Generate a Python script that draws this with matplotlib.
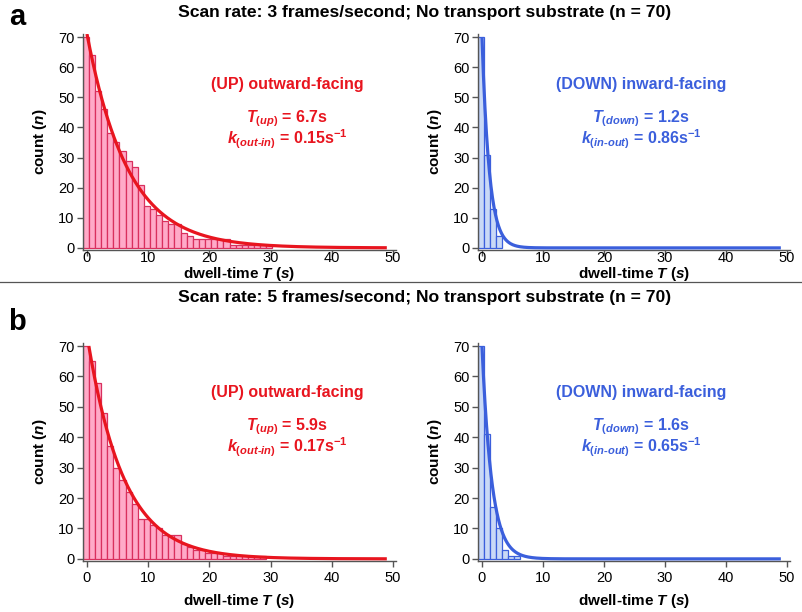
import numpy as np
import matplotlib
matplotlib.use("Agg")
import matplotlib.pyplot as plt
from matplotlib.lines import Line2D

plt.rcParams['font.family'] = ['Liberation Sans', 'DejaVu Sans']
plt.rcParams['mathtext.fontset'] = 'custom'
plt.rcParams['mathtext.rm'] = 'Liberation Sans:bold'
plt.rcParams['mathtext.bf'] = 'Liberation Sans:bold'
plt.rcParams['mathtext.it'] = 'Liberation Sans:italic:bold'

# histogram counts per 1 s bin (first bin starts at -0.7 s)
up_3fps = [70, 64, 52, 46, 38, 35, 32, 29, 27, 21, 14, 13, 11, 9, 8, 8, 5, 4,
           3, 3, 3, 3, 3, 3, 1, 1, 1, 1, 1, 1, 1]
down_3fps = [70, 31, 13, 4]
up_5fps = [70, 65, 58, 48, 37, 30, 26, 22, 18, 13, 13, 11, 10, 8, 8, 8, 5, 4,
           3, 3, 2, 2, 2, 1, 1, 1, 1, 1, 1, 1]
down_5fps = [70, 41, 17, 10, 3, 1, 1]

# exponential fits: amplitude, start time, dwell time
fit_up_3 = (71, 0.0, 6.7)
fit_down_3 = (70, 0.0, 1.2)
fit_up_5 = (70, 0.3, 5.9)
fit_down_5 = (70, 0.0, 1.6)

titles = ["Scan rate: 3 frames/second; No transport substrate (n = 70)",
          "Scan rate: 5 frames/second; No transport substrate (n = 70)"]
panel_letters = ["a", "b"]
up_text = [("6.7", "0.15"), ("5.9", "0.17")]
down_text = [("1.2", "0.86"), ("1.6", "0.65")]

red = '#e8151f'
pink = '#ffaac8'
pink_edge = '#d9305e'
blue = '#3b5fdc'
lightblue = '#c9d9f6'
axcol = '#555555'

W, H = 802, 612
fig = plt.figure(figsize=(W / 100, H / 100), dpi=100)


def px_axes(x0, x1, y0, y1):
    return fig.add_axes([x0 / W, 1 - y1 / H, (x1 - x0) / W, (y1 - y0) / H])


def draw_hist(ax, counts, fit, color, fill, edge, xpad, xlabelpad):
    n = len(counts)
    ax.bar(np.arange(n) - 0.7, counts, width=1.0, align='edge',
           color=fill, edgecolor=edge, linewidth=0.9, zorder=2)
    amp, t0, tau = fit
    t = np.linspace(t0, 49, 400)
    ax.plot(t, amp * np.exp(-(t - t0) / tau), color=color, lw=2.3, zorder=3,
            solid_capstyle='butt')
    ax.set_xlim(-0.65, 50.5)
    ax.set_ylim(-0.7, 71)
    ax.set_xticks(np.arange(0, 51, 10))
    ax.set_yticks(np.arange(0, 71, 10))
    for s in ['top', 'right']:
        ax.spines[s].set_visible(False)
    for s in ['left', 'bottom']:
        ax.spines[s].set_color(axcol)
        ax.spines[s].set_linewidth(1.0)
    ax.tick_params(direction='out', length=4, width=1, color=axcol,
                   labelsize=10.5, pad=2)
    ax.tick_params(axis='x', pad=xpad)
    ax.set_xlabel("dwell-time $T$ ($s$)", fontsize=11, fontweight='bold',
                  labelpad=xlabelpad)
    ax.set_ylabel("count ($n$)", fontsize=11, fontweight='bold', labelpad=7)


rows = [(34, 250, up_3fps, down_3fps, fit_up_3, fit_down_3),
        (343, 561, up_5fps, down_5fps, fit_up_5, fit_down_5)]
title_y = [12, 297]
letter_y = [17, 322]
text_off = [0, 308]
xpads = [-3.5, 3]
xlabelpads = [0, 5]

for i, (ytop, ybot, up, down, fu, fd) in enumerate(rows):
    ax1 = px_axes(83, 396, ytop, ybot)
    draw_hist(ax1, up, fu, red, pink, pink_edge, xpads[i], xlabelpads[i])
    ax2 = px_axes(478, 790, ytop, ybot)
    draw_hist(ax2, down, fd, blue, lightblue, blue, xpads[i], xlabelpads[i])

    fig.text(425 / W, 1 - title_y[i] / H, titles[i], ha='center', va='center',
             fontsize=12.6, fontweight='bold')
    fig.text(17 / W, 1 - letter_y[i] / H, panel_letters[i], ha='center',
             va='center', fontsize=21, fontweight='bold')

    off = text_off[i]
    tu, ku = up_text[i]
    fig.text(287 / W, 1 - (84 + off) / H, "(UP) outward-facing", color=red,
             ha='center', va='center', fontsize=11.5, fontweight='bold')
    fig.text(287 / W, 1 - (119 + off) / H,
             r"$\mathit{T}_{\mathit{(up)}}$ = " + tu + "s", color=red,
             ha='center', va='center', fontsize=11.5, fontweight='bold')
    fig.text(287 / W, 1 - (139 + off) / H,
             r"$\mathit{k}_{\mathit{(out}\text{-}\mathit{in)}}$ = " + ku
             + r"s$^{-1}$", color=red,
             ha='center', va='center', fontsize=11.5, fontweight='bold')

    td, kd = down_text[i]
    fig.text(641 / W, 1 - (84 + off) / H, "(DOWN) inward-facing", color=blue,
             ha='center', va='center', fontsize=11.5, fontweight='bold')
    fig.text(641 / W, 1 - (119 + off) / H,
             r"$\mathit{T}_{\mathit{(down)}}$ = " + td + "s", color=blue,
             ha='center', va='center', fontsize=11.5, fontweight='bold')
    fig.text(641 / W, 1 - (139 + off) / H,
             r"$\mathit{k}_{\mathit{(in}\text{-}\mathit{out)}}$ = " + kd
             + r"s$^{-1}$", color=blue,
             ha='center', va='center', fontsize=11.5, fontweight='bold')

fig.add_artist(Line2D([0, 1], [1 - 282 / H, 1 - 282 / H], color=axcol, lw=0.9))

fig.savefig("out.png", dpi=100)
